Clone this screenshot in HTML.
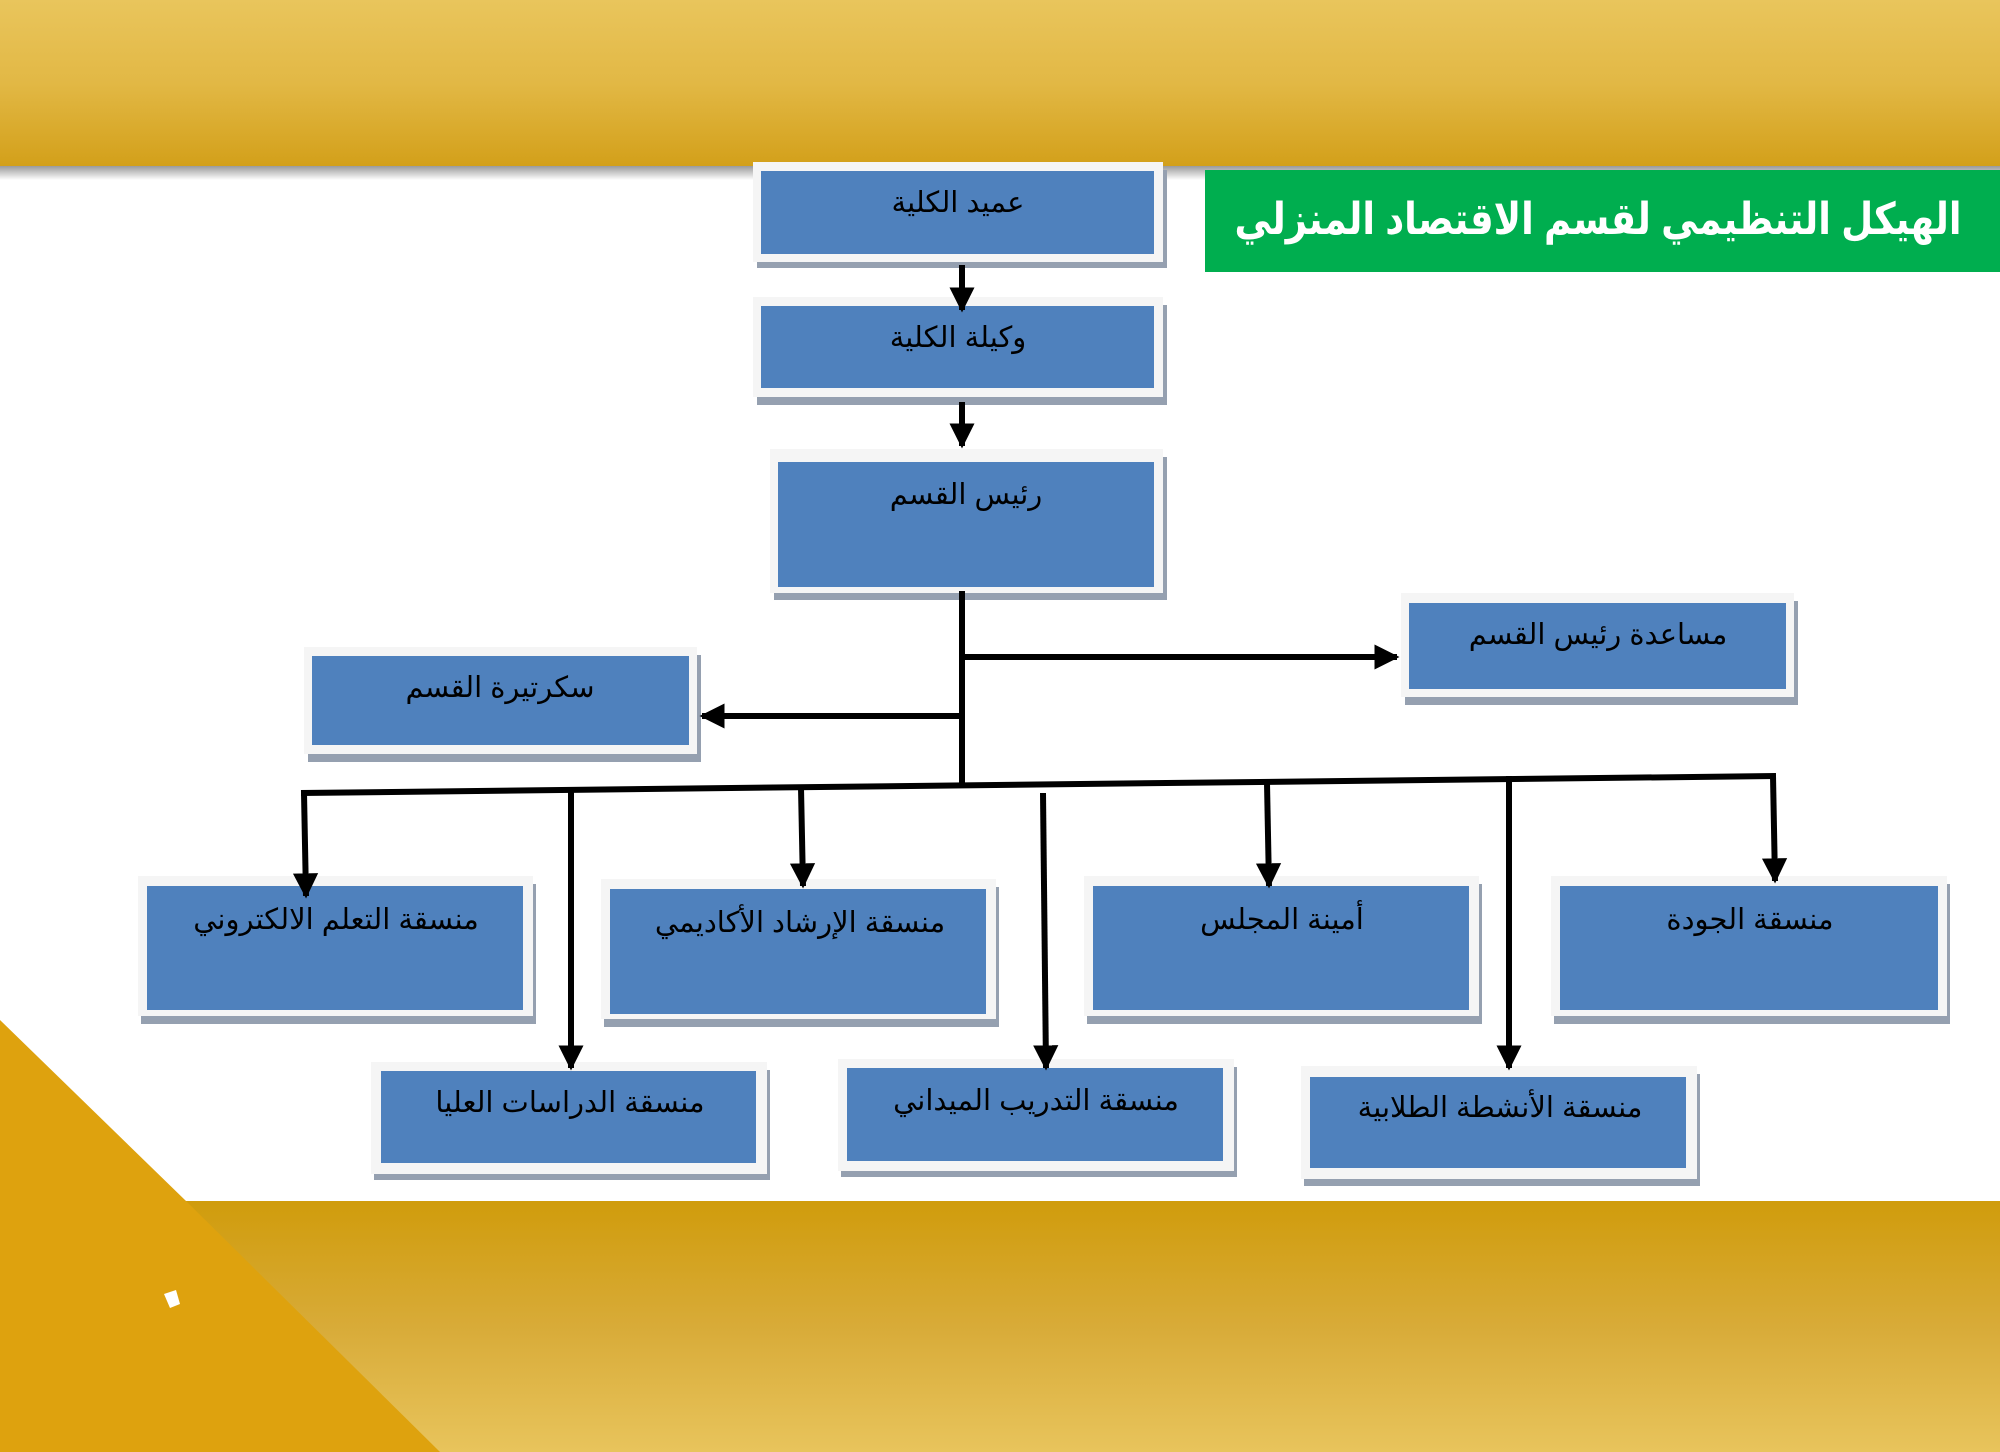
<!DOCTYPE html>
<html><head><meta charset="utf-8"><style>
html,body{margin:0;padding:0;background:#fff}
svg{display:block}
text{font-family:"Liberation Sans","DejaVu Sans",sans-serif;}
</style></head><body>
<svg width="2000" height="1452" viewBox="0 0 2000 1452" xmlns="http://www.w3.org/2000/svg">
<defs>
<linearGradient id="gt" x1="0" y1="0" x2="0" y2="1"><stop offset="0" stop-color="#e9c55c"/><stop offset="0.5" stop-color="#e2b845"/><stop offset="1" stop-color="#d3a01a"/></linearGradient>
<linearGradient id="gs" x1="0" y1="0" x2="0" y2="1"><stop offset="0" stop-color="#9a9a9a"/><stop offset="1" stop-color="#ffffff"/></linearGradient>
<linearGradient id="gb" x1="0" y1="0" x2="0" y2="1"><stop offset="0" stop-color="#d09c0c"/><stop offset="0.5" stop-color="#d8ab38"/><stop offset="1" stop-color="#e8c45c"/></linearGradient>
<marker id="ah" viewBox="0 0 10 10" refX="9" refY="5" markerWidth="4.2" markerHeight="4.5" orient="auto" markerUnits="strokeWidth"><path d="M0,0 L10,5 L0,10 z" fill="#000"/></marker>
</defs>
<rect x="0" y="0" width="2000" height="166" fill="url(#gt)"/>
<rect x="0" y="166" width="2000" height="14" fill="url(#gs)"/>
<rect x="0" y="1201" width="2000" height="251" fill="url(#gb)"/>
<polygon points="0,1020 186,1201 440,1452 0,1452" fill="#dea20e"/>
<polygon points="164,1294 176,1290 180,1304 170,1308" fill="#fff"/>

<rect x="1205" y="170" width="795" height="102" fill="#00ae4f"/>
<text x="1598" y="234" font-size="44" font-weight="bold" fill="#fff" text-anchor="middle" textLength="727" lengthAdjust="spacingAndGlyphs">الهيكل التنظيمي لقسم الاقتصاد المنزلي</text>

<g>
<rect x="757" y="170" width="410" height="98" fill="#95a0b0"/><rect x="753" y="162" width="410" height="100" fill="#f5f5f5"/><rect x="761" y="171" width="393" height="83" fill="#4f81bd"/>
<text x="958" y="212" font-size="29" text-anchor="middle" fill="#000">عميد الكلية</text>
</g>
<g>
<rect x="757" y="305" width="410" height="100" fill="#95a0b0"/><rect x="753" y="297" width="410" height="100" fill="#f5f5f5"/><rect x="761" y="306" width="393" height="82" fill="#4f81bd"/>
<text x="958" y="347" font-size="29" text-anchor="middle" fill="#000">وكيلة الكلية</text>
</g>
<g>
<rect x="774" y="457" width="393" height="143" fill="#95a0b0"/><rect x="770" y="449" width="393" height="144" fill="#f5f5f5"/><rect x="778" y="462" width="376" height="125" fill="#4f81bd"/>
<text x="966" y="504" font-size="29" text-anchor="middle" fill="#000">رئيس القسم</text>
</g>
<g>
<rect x="1405" y="601" width="393" height="104" fill="#95a0b0"/><rect x="1401" y="593" width="393" height="104" fill="#f5f5f5"/><rect x="1409" y="603" width="377" height="86" fill="#4f81bd"/>
<text x="1598" y="644" font-size="29" text-anchor="middle" fill="#000">مساعدة رئيس القسم</text>
</g>
<g>
<rect x="308" y="655" width="393" height="107" fill="#95a0b0"/><rect x="304" y="647" width="393" height="107" fill="#f5f5f5"/><rect x="312" y="656" width="377" height="89" fill="#4f81bd"/>
<text x="500" y="697" font-size="29" text-anchor="middle" fill="#000">سكرتيرة القسم</text>
</g>
<g>
<rect x="141" y="884" width="395" height="140" fill="#95a0b0"/><rect x="138" y="876" width="395" height="140" fill="#f5f5f5"/><rect x="147" y="886" width="376" height="124" fill="#4f81bd"/>
<text x="336" y="929" font-size="29" text-anchor="middle" fill="#000">منسقة التعلم الالكتروني</text>
</g>
<g>
<rect x="604" y="887" width="395" height="140" fill="#95a0b0"/><rect x="601" y="879" width="395" height="140" fill="#f5f5f5"/><rect x="610" y="889" width="376" height="125" fill="#4f81bd"/>
<text x="800" y="932" font-size="29" text-anchor="middle" fill="#000">منسقة الإرشاد الأكاديمي</text>
</g>
<g>
<rect x="1087" y="884" width="395" height="140" fill="#95a0b0"/><rect x="1084" y="876" width="395" height="140" fill="#f5f5f5"/><rect x="1093" y="886" width="376" height="124" fill="#4f81bd"/>
<text x="1282" y="929" font-size="29" text-anchor="middle" fill="#000">أمينة المجلس</text>
</g>
<g>
<rect x="1554" y="884" width="396" height="140" fill="#95a0b0"/><rect x="1551" y="876" width="396" height="140" fill="#f5f5f5"/><rect x="1560" y="886" width="378" height="124" fill="#4f81bd"/>
<text x="1750" y="929" font-size="29" text-anchor="middle" fill="#000">منسقة الجودة</text>
</g>
<g>
<rect x="374" y="1070" width="396" height="110" fill="#95a0b0"/><rect x="371" y="1062" width="396" height="112" fill="#f5f5f5"/><rect x="381" y="1071" width="375" height="92" fill="#4f81bd"/>
<text x="570" y="1112" font-size="29" text-anchor="middle" fill="#000">منسقة الدراسات العليا</text>
</g>
<g>
<rect x="841" y="1067" width="396" height="110" fill="#95a0b0"/><rect x="838" y="1059" width="396" height="112" fill="#f5f5f5"/><rect x="847" y="1068" width="376" height="93" fill="#4f81bd"/>
<text x="1036" y="1110" font-size="29" text-anchor="middle" fill="#000">منسقة التدريب الميداني</text>
</g>
<g>
<rect x="1304" y="1074" width="396" height="112" fill="#95a0b0"/><rect x="1301" y="1066" width="396" height="113" fill="#f5f5f5"/><rect x="1310" y="1077" width="376" height="91" fill="#4f81bd"/>
<text x="1500" y="1117" font-size="29" text-anchor="middle" fill="#000">منسقة الأنشطة الطلابية</text>
</g>

<g stroke="#000" stroke-width="6" fill="none">
<line x1="962" y1="265" x2="962" y2="310" marker-end="url(#ah)"/>
<line x1="962" y1="402" x2="962" y2="446" marker-end="url(#ah)"/>
<line x1="962" y1="591" x2="962" y2="785"/>
<line x1="962" y1="657" x2="1397" y2="657" marker-end="url(#ah)"/>
<line x1="962" y1="716" x2="702" y2="716" marker-end="url(#ah)"/>
<line x1="301" y1="793" x2="1776" y2="776"/>
<line x1="304" y1="793" x2="306" y2="896" marker-end="url(#ah)"/>
<line x1="571" y1="790" x2="571" y2="1068" marker-end="url(#ah)"/>
<line x1="801" y1="788" x2="803" y2="886" marker-end="url(#ah)"/>
<line x1="1043" y1="793" x2="1046" y2="1068" marker-end="url(#ah)"/>
<line x1="1267" y1="783" x2="1269" y2="886" marker-end="url(#ah)"/>
<line x1="1509" y1="776" x2="1509" y2="1068" marker-end="url(#ah)"/>
<line x1="1773" y1="776" x2="1775" y2="881" marker-end="url(#ah)"/>
</g>
</svg>
</body></html>
